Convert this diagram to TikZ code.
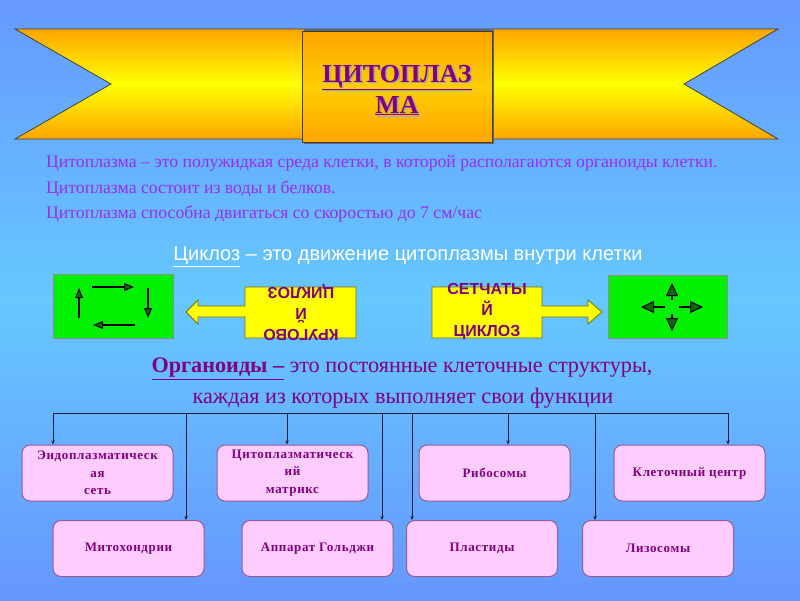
\documentclass[tikz,border=0pt]{standalone}
\usepackage{fontspec}
\setmainfont{Liberation Serif}
\newfontfamily\sansf{Liberation Sans}
\usetikzlibrary{arrows.meta}
\definecolor{bgtop}{RGB}{102,153,255}
\definecolor{bgmid}{RGB}{102,200,255}
\definecolor{bgbot}{RGB}{102,150,255}
\definecolor{ribor}{RGB}{255,165,0}
\definecolor{ribye}{RGB}{255,255,0}
\definecolor{boxmid}{RGB}{255,205,0}
\definecolor{titlecol}{RGB}{128,0,128}
\definecolor{violet1}{RGB}{155,45,240}
\definecolor{cellgreen}{RGB}{0,240,0}
\definecolor{headgreen}{RGB}{0,110,0}
\definecolor{boxfill}{RGB}{255,204,255}
\definecolor{boxborder}{RGB}{150,90,150}
\definecolor{conncol}{RGB}{25,30,60}
\definecolor{yelline}{RGB}{110,110,40}
\begin{document}
\begin{tikzpicture}[x=1pt,y=-1pt,
  orgbox/.style={draw=boxborder, fill=boxfill, rounded corners=8pt, minimum width=151pt,
    minimum height=56pt, line width=1pt, inner sep=0pt, align=center, text=titlecol,
    font=\bfseries\fontsize{13}{17.5}\selectfont\addfontfeatures{LetterSpace=5}},
  conn/.style={draw=conncol, line width=0.8pt, -{Stealth[length=4pt,width=3.5pt]}},
  cellbox/.style={draw=black!45, fill=cellgreen, line width=0.8pt},
  cellarrow/.style={draw=black, line width=2pt, -{Triangle[length=10pt,width=8pt,fill=headgreen,line width=1pt]}},
  bigcellarrow/.style={draw=black, line width=2pt, -{Triangle[length=13pt,width=12pt,fill=headgreen,line width=1pt]}},
  yarrow/.style={draw=yelline, fill=ribye, line width=0.8pt},
  cyctext/.style={font=\sansf\bfseries\fontsize{16}{21}\selectfont, text=titlecol, align=center},
  bodytext/.style={font=\fontsize{17.7}{19}\selectfont, text=violet1, anchor=west, inner sep=0pt}
]
\useasboundingbox (0,0) rectangle (800,600);
% background
\shade[top color=bgtop, bottom color=bgbot, middle color=bgmid] (0,0) rectangle (800,600);
% ribbon
\shade[top color=ribor, bottom color=ribor, middle color=ribye]
  (15,29) -- (778,29) -- (684,84) -- (778,139) -- (15,139) -- (111,84) -- cycle;
\draw[black!75, line width=0.8pt] (15,29) -- (778,29) -- (684,84) -- (778,139) -- (15,139) -- (111,84) -- cycle;
% centre box
\fill[black!60] (304,29) rectangle (494,144);
\shade[top color=ribor, bottom color=ribor, middle color=boxmid] (302,31) rectangle (492,142);
\draw[black!75, line width=0.9pt] (302,31) rectangle (492,142);
\node[font=\bfseries\fontsize{26}{31}\selectfont, text=black!35, align=center] at (398.5,91.5) {\underline{ЦИТОПЛАЗ}\\\underline{МА}};
\node (title) [font=\bfseries\fontsize{26}{31}\selectfont, text=titlecol, align=center] at (397,90) {\underline{ЦИТОПЛАЗ}\\\underline{МА}};
% body text
\node (t1) [bodytext] at (46,163) {Цитоплазма – это полужидкая среда клетки, в которой располагаются органоиды клетки.};
\node (t2) [bodytext] at (46,189) {Цитоплазма состоит из воды и белков.};
\node (t3) [bodytext] at (46,214) {Цитоплазма способна двигаться со скоростью до 7 см/час};
% cyclosis
\node (cyc) [font=\sansf\fontsize{20}{22}\selectfont, text=white] at (408,257) {\underline{Циклоз} – это движение цитоплазмы внутри клетки};
% left green box
\node (gl) [cellbox, minimum width=120pt, minimum height=64pt, inner sep=0pt] at (113,306) {};
\draw[cellarrow] (79,318) -- (79,288);
\draw[cellarrow] (92,287) -- (134,287);
\draw[cellarrow] (148,288) -- (148,318);
\draw[cellarrow] (135,325) -- (93,325);
% right green box
\node (gr) [cellbox, minimum width=119pt, minimum height=63pt, inner sep=0pt] at (667.5,306.5) {};
\draw[bigcellarrow] (672,300) -- (672,283);
\draw[bigcellarrow] (672,314) -- (672,331);
\draw[bigcellarrow] (665,307) -- (641,307);
\draw[bigcellarrow] (679,307) -- (703,307);
% yellow arrows
\draw[yarrow] (356,287) -- (245,287) -- (245,306) -- (198,306) -- (198,300) -- (186,312) -- (198,324) -- (198,317) -- (245,317) -- (245,338) -- (356,338) -- cycle;
\node (krug) [cyctext, rotate=180] at (301,312) {КРУГОВО\\Й\\ЦИКЛОЗ};
\draw[yarrow] (432,287) -- (542,287) -- (542,306) -- (588,306) -- (588,300) -- (602,312) -- (588,324) -- (588,317) -- (542,317) -- (542,338) -- (432,338) -- cycle;
\node (set) [cyctext] at (487,312) {СЕТЧАТЫ\\Й\\ЦИКЛОЗ};
% organoids heading
\node (org1) [font=\fontsize{22.2}{24}\selectfont, text=titlecol] at (402,369) {\textbf{\underline{Органоиды –}} это постоянные клеточные структуры,};
\node (org2) [font=\fontsize{22.2}{24}\selectfont, text=titlecol] at (403,398) {каждая из которых выполняет свои функции};
% organelle boxes
\node (endo) [orgbox] at (97.5,473) {Эндоплазматическ\\ая\\сеть};
\node (cmat) [orgbox] at (292.5,473) {Цитоплазматическ\\ий\\матрикс};
\node (ribo) [orgbox] at (494.5,473) {Рибосомы};
\node (cent) [orgbox] at (689.5,473) {Клеточный центр};
\node (mito) [orgbox] at (128.5,548.5) {Митохондрии};
\node (golg) [orgbox] at (317.5,548.5) {Аппарат Гольджи};
\node (plas) [orgbox] at (482,548.5) {Пластиды};
\node (lizo) [orgbox] at (658,548.5) {Лизосомы};
% connectors
\coordinate (hL) at (53,413);
\coordinate (hR) at (728,413);
\coordinate (v2) at (186,413);
\coordinate (v3) at (287,413);
\coordinate (v4) at (382,413);
\coordinate (v5) at (412,413);
\coordinate (v6) at (508,413);
\coordinate (v7) at (595,413);
\draw[draw=conncol, line width=0.8pt] (hL) -- (hR);
\draw[conn] (hL) -- (hL |- endo.north);
\draw[conn] (v2) -- (v2 |- mito.north);
\draw[conn] (v3) -- (v3 |- cmat.north);
\draw[conn] (v4) -- (v4 |- golg.north);
\draw[conn] (v5) -- (v5 |- plas.north);
\draw[conn] (v6) -- (v6 |- ribo.north);
\draw[conn] (v7) -- (v7 |- lizo.north);
\draw[conn] (hR) -- (hR |- cent.north);
\end{tikzpicture}
\end{document}
